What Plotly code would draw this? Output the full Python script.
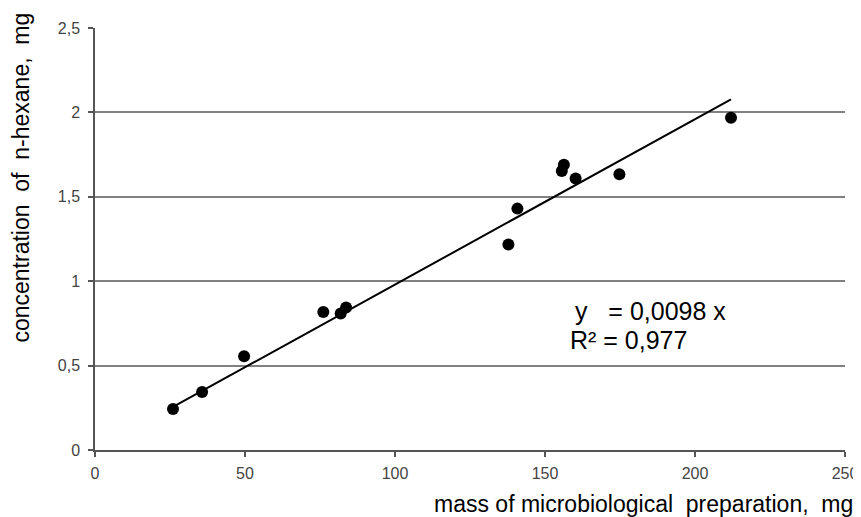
import plotly.graph_objects as go

# data
mass = [26, 35.7, 49.7, 76.1, 81.9, 83.7, 137.8, 140.8, 155.6, 156.3, 160.2, 174.8, 212]
conc = [0.243, 0.343, 0.556, 0.818, 0.809, 0.844, 1.217, 1.43, 1.653, 1.69, 1.608, 1.633, 1.968]
slope = 0.0098
trend_x = [26, 212]
trend_y = [slope * v for v in trend_x]
x_ticks = [0, 50, 100, 150, 200, 250]
y_ticks = [0, 0.5, 1, 1.5, 2, 2.5]
y_ticklabels = ["0", "0,5", "1", "1,5", "2", "2,5"]

FONT = "Liberation Sans, Arial, sans-serif"

fig = go.Figure()
fig.add_trace(go.Scatter(x=trend_x, y=trend_y, mode="lines",
                         line=dict(color="black", width=2), showlegend=False, hoverinfo="skip"))
fig.add_trace(go.Scatter(x=mass, y=conc, mode="markers",
                         marker=dict(color="black", size=12), showlegend=False))

fig.update_layout(
    autosize=False,
    width=853, height=509,
    margin=dict(l=87, r=16, t=20, b=67),
    paper_bgcolor="white", plot_bgcolor="white",
    separators=", ",
    font=dict(family=FONT, color="#333333", size=16),
    xaxis=dict(range=[0, 250], tickvals=x_ticks, showgrid=False, zeroline=False,
               showline=True, linecolor="#555555", linewidth=1.5,
               ticks="outside", ticklen=5, tickcolor="#555555", tickwidth=1.5,
               ticklabelstandoff=3, ticklabeloverflow="allow", automargin=False,
               tickfont=dict(size=16, color="#444444")),
    yaxis=dict(range=[0, 2.5], tickvals=y_ticks, ticktext=y_ticklabels,
               showgrid=True, gridcolor="#808080", gridwidth=1.5, zeroline=False,
               showline=True, linecolor="#555555", linewidth=1.5,
               ticks="outside", ticklen=5, tickcolor="#555555", tickwidth=1.5,
               ticklabelstandoff=5, automargin=False,
               tickfont=dict(size=16, color="#444444")),
    annotations=[
        dict(text="mass of microbiological\u00a0 preparation,\u00a0 mg", xref="paper", yref="paper",
             x=1.0133, y=-0.128, xanchor="right", yanchor="middle", showarrow=False,
             font=dict(size=23, color="black", family=FONT)),
        dict(text="concentration\u00a0 of\u00a0 n-hexane,\u00a0 mg", xref="paper", yref="paper",
             x=-0.099, y=0.645, xanchor="center", yanchor="middle", textangle=-90, showarrow=False,
             font=dict(size=23, color="black", family=FONT)),
        dict(text="y\u00a0\u00a0\u00a0= 0,0098 x", xref="x", yref="y", x=159.3, y=0.825,
             xanchor="left", yanchor="middle", showarrow=False,
             font=dict(size=25, color="black", family=FONT)),
        dict(text="R\u00b2 = 0,977", xref="x", yref="y", x=157.7, y=0.654,
             xanchor="left", yanchor="middle", showarrow=False,
             font=dict(size=25, color="black", family=FONT)),
    ],
)

fig.write_html("out.html")
